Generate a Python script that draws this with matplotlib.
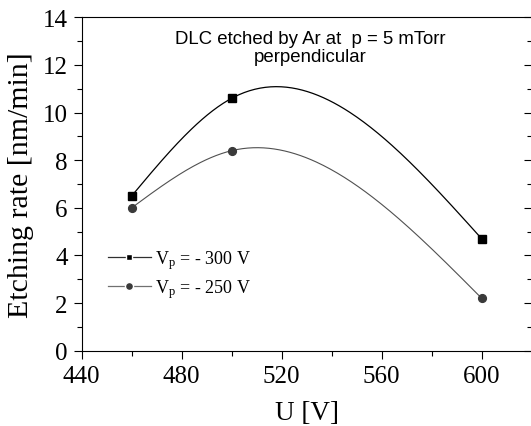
import numpy as np
import matplotlib
matplotlib.use("Agg")
import matplotlib.pyplot as plt
from matplotlib.ticker import MultipleLocator

# data
u_volt = [460, 500, 600]
rate_300 = [6.5, 10.6, 4.7]
rate_250 = [6.0, 8.4, 2.2]
labels = [r"V$_\mathrm{p}$ = - 300 V", r"V$_\mathrm{p}$ = - 250 V"]


def natural_spline(x, y, n=200):
    # natural cubic spline through the points (smooth connecting line)
    x = np.asarray(x, float)
    y = np.asarray(y, float)
    k = len(x)
    h = np.diff(x)
    A = np.zeros((k, k))
    b = np.zeros(k)
    A[0, 0] = 1
    A[-1, -1] = 1
    for i in range(1, k - 1):
        A[i, i - 1] = h[i - 1]
        A[i, i] = 2 * (h[i - 1] + h[i])
        A[i, i + 1] = h[i]
        b[i] = 6 * ((y[i + 1] - y[i]) / h[i] - (y[i] - y[i - 1]) / h[i - 1])
    M = np.linalg.solve(A, b)
    xs = np.linspace(x[0], x[-1], n)
    ys = np.zeros_like(xs)
    for j, xv in enumerate(xs):
        i = min(np.searchsorted(x, xv, side="right") - 1, k - 2)
        hi = h[i]
        a = x[i + 1] - xv
        c = xv - x[i]
        ys[j] = (M[i] * a ** 3 / (6 * hi) + M[i + 1] * c ** 3 / (6 * hi)
                 + (y[i] - M[i] * hi ** 2 / 6) * a / hi
                 + (y[i + 1] - M[i + 1] * hi ** 2 / 6) * c / hi)
    return xs, ys


plt.rcParams["font.family"] = ["Liberation Serif", "DejaVu Serif"]
plt.rcParams["mathtext.fontset"] = "custom"
plt.rcParams["mathtext.rm"] = "Liberation Serif"
plt.rcParams["mathtext.it"] = "Liberation Serif:italic"

fig = plt.figure(figsize=(5.31, 4.27), dpi=100)
ax = fig.add_axes([81.7 / 531, (427 - 351.7) / 427, 450 / 531, 333.4 / 427])

c1 = "black"
c2 = "#3a3a3a"

xs, ys = natural_spline(u_volt, rate_300)
ax.plot(xs, ys, color=c1, lw=0.9)
ax.plot(u_volt, rate_300, "s", color=c1, ms=5.3, ls="none")
xs, ys = natural_spline(u_volt, rate_250)
ax.plot(xs, ys, color="#505050", lw=0.8)
ax.plot(u_volt, rate_250, "o", color=c2, ms=5.6, ls="none")

# legend handles
h1, = ax.plot([], [], color="#303030", lw=0.9, marker="s", ms=5.0,
              markerfacecolor=c1, markeredgecolor="white", markeredgewidth=1)
h2, = ax.plot([], [], color="#707070", lw=0.9, marker="o", ms=5.8,
              markerfacecolor=c2, markeredgecolor="white", markeredgewidth=1)
ax.legend([h1, h2], labels, loc="center left",
          bbox_to_anchor=(0.0578, 0.23), borderpad=0, borderaxespad=0,
          frameon=False, fontsize=13, handlelength=2.4, handletextpad=0.2,
          labelspacing=0.3, numpoints=1)

ax.set_xlim(440, 620)
ax.set_ylim(0, 14)
ax.xaxis.set_major_locator(MultipleLocator(40))
ax.xaxis.set_minor_locator(MultipleLocator(20))
ax.yaxis.set_major_locator(MultipleLocator(2))
ax.yaxis.set_minor_locator(MultipleLocator(1))

ax.tick_params(axis="both", which="major", direction="out", length=6,
               width=0.8, labelsize=18, pad=4)
ax.tick_params(axis="both", which="minor", direction="out", length=3.5,
               width=0.8)
ax.spines["right"].set_visible(False)

# right side ticks point inward
secy = ax.secondary_yaxis("right")
secy.yaxis.set_major_locator(MultipleLocator(2))
secy.yaxis.set_minor_locator(MultipleLocator(1))
secy.tick_params(which="major", direction="in", length=6, width=0.8,
                 labelright=False)
secy.tick_params(which="minor", direction="in", length=3.5, width=0.8)
secy.spines["right"].set_visible(False)

ax.set_xlabel("U [V]", fontsize=19.5, labelpad=10)
ax.set_ylabel("Etching rate [nm/min]", fontsize=21.5, labelpad=6)

ax.text(0.507, (351.7 - 40) / 333.4, "DLC etched by Ar at  p = 5 mTorr",
        transform=ax.transAxes, ha="center", va="center", fontsize=13.4,
        family="Liberation Sans")
ax.text(0.507, (351.7 - 58) / 333.4, "perpendicular",
        transform=ax.transAxes, ha="center", va="center", fontsize=13.4,
        family="Liberation Sans")

fig.savefig("out.png", dpi=100)
